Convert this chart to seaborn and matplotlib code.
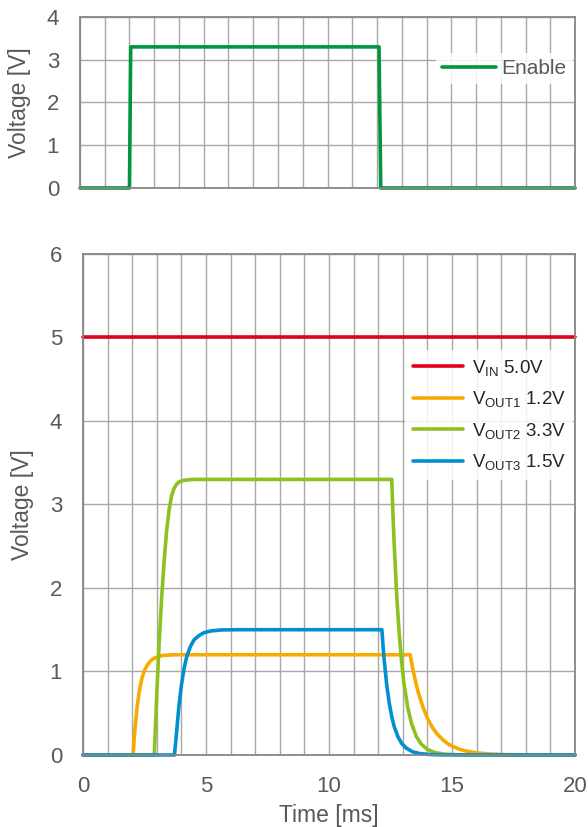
import numpy as np
import pandas as pd
import matplotlib
matplotlib.use("Agg")
import matplotlib.pyplot as plt
import seaborn as sns

# DATA (time in ms, voltage in V)
enable_t = [0, 2.0, 2.05, 12.08, 12.15, 20]
enable_v = [0, 0, 3.3, 3.3, 0, 0]

vin_t = [0, 20]
vin_v = [5.0, 5.0]

vout1_t = [0, 2.04, 2.1, 2.2, 2.3, 2.4, 2.5, 2.6, 2.7, 2.8, 2.9, 3.0, 3.2, 3.4, 3.7,
           13.3, 13.4, 13.5, 13.6, 13.7, 13.85, 14.0, 14.2, 14.4, 14.6, 14.8, 15.0,
           15.3, 15.6, 16.0, 16.5, 17.0, 17.5, 18.0, 20]
vout1_v = [0, 0, 0.26, 0.57, 0.78, 0.92, 1.01, 1.07, 1.11, 1.14, 1.16, 1.17, 1.19, 1.195, 1.2,
           1.2, 1.04, 0.90, 0.78, 0.68, 0.55, 0.44, 0.33, 0.25, 0.19, 0.14, 0.106,
           0.069, 0.045, 0.025, 0.012, 0.006, 0.003, 0.001, 0]

vout2_t = [0, 2.9, 3.0, 3.1, 3.2, 3.3, 3.4, 3.5, 3.6, 3.7, 3.8, 3.9, 4.1, 4.5,
           12.55, 12.6, 12.65, 12.75, 12.85, 12.95, 13.05, 13.2, 13.35, 13.55, 13.75,
           14.0, 14.3, 14.65, 15.15, 20]
vout2_v = [0, 0, 0.72, 1.35, 1.88, 2.32, 2.68, 2.93, 3.10, 3.19, 3.24, 3.27, 3.29, 3.3,
           3.3, 2.88, 2.52, 1.92, 1.47, 1.12, 0.85, 0.57, 0.38, 0.22, 0.13,
           0.066, 0.03, 0.011, 0.003, 0]

vout3_t = [0, 3.72, 3.8, 3.9, 4.0, 4.1, 4.22, 4.37, 4.52, 4.72, 4.92, 5.22, 5.62, 6.2,
           12.15, 12.2, 12.25, 12.35, 12.45, 12.55, 12.65, 12.8, 12.95, 13.15, 13.4,
           13.7, 14.05, 14.55, 20]
vout3_v = [0, 0, 0.25, 0.58, 0.83, 1.02, 1.18, 1.30, 1.38, 1.43, 1.465, 1.486, 1.497, 1.5,
           1.5, 1.29, 1.12, 0.83, 0.62, 0.46, 0.34, 0.22, 0.14, 0.08, 0.038,
           0.016, 0.006, 0.001, 0]

series = [
    ("$\\mathregular{V_{IN}}$ 5.0V", vin_t, vin_v, "#E2001A"),
    ("$\\mathregular{V_{OUT1}}$ 1.2V", vout1_t, vout1_v, "#F7AB00"),
    ("$\\mathregular{V_{OUT2}}$ 3.3V", vout2_t, vout2_v, "#8CC21F"),
    ("$\\mathregular{V_{OUT3}}$ 1.5V", vout3_t, vout3_v, "#0090D2"),
]

sns.set_theme(style="whitegrid")
plt.rcParams['font.family'] = ['Liberation Sans', 'DejaVu Sans']
plt.rcParams['mathtext.fontset'] = 'custom'
plt.rcParams['mathtext.rm'] = 'Liberation Sans'

TXT = "#595959"
GRID = "#A8A8A8"
SPINE = "#868686"

fig = plt.figure(figsize=(5.88, 8.27), dpi=100)
ax1 = fig.add_axes([0.136, 0.7727, 0.842, 0.2068])
ax2 = fig.add_axes([0.141, 0.0871, 0.837, 0.6058])


def style_axes(ax, ymax):
    ax.set_xlim(0, 20)
    ax.set_ylim(0, ymax)
    ax.set_xticks(range(0, 21))
    ax.set_yticks(range(0, ymax + 1))
    ax.grid(True, color=GRID, linewidth=1.0)
    ax.set_facecolor("white")
    for s in ax.spines.values():
        s.set_color(SPINE)
        s.set_linewidth(1.3)
        s.set_visible(True)
    ax.tick_params(length=0, labelsize=16, colors=TXT, pad=15)
    ax.set_ylabel("Voltage [V]", fontsize=16.5, color=TXT, labelpad=11)


# --- TOP: ENABLE ---
df_en = pd.DataFrame({"t": enable_t, "v": enable_v})
sns.lineplot(data=df_en, x="t", y="v", ax=ax1, color="#009640", linewidth=2.6,
             sort=False, estimator=None, label="Enable", clip_on=False)
style_axes(ax1, 4)
ax1.set_xticklabels([])
ax1.set_xlabel("")
leg1 = ax1.legend(loc="upper right", bbox_to_anchor=(1.0, 0.803), fontsize=15,
                  handlelength=2.6, handletextpad=0.25, frameon=True,
                  framealpha=0.85, edgecolor="none", fancybox=False,
                  borderpad=0.3, borderaxespad=0.1)
for t in leg1.get_texts():
    t.set_color(TXT)

# --- BOTTOM: VIN / VOUT ---
for name, t, v, c in series:
    d = pd.DataFrame({"t": t, "v": v})
    sns.lineplot(data=d, x="t", y="v", ax=ax2, color=c, linewidth=2.6,
                 sort=False, estimator=None, label=name, clip_on=False)
style_axes(ax2, 6)
ax2.set_xticklabels([str(i) if i % 5 == 0 else "" for i in range(0, 21)])
ax2.set_xlabel("Time [ms]", fontsize=16.5, color=TXT, labelpad=5)
leg2 = ax2.legend(loc="upper right", bbox_to_anchor=(1.0, 0.812), fontsize=13.5,
                  handlelength=2.7, handletextpad=0.45, labelspacing=0.62,
                  frameon=True, framealpha=0.85, edgecolor="none",
                  fancybox=False, borderpad=0.4, borderaxespad=0.1)
for t in leg2.get_texts():
    t.set_color("#262626")

fig.savefig("out.png", dpi=100)
